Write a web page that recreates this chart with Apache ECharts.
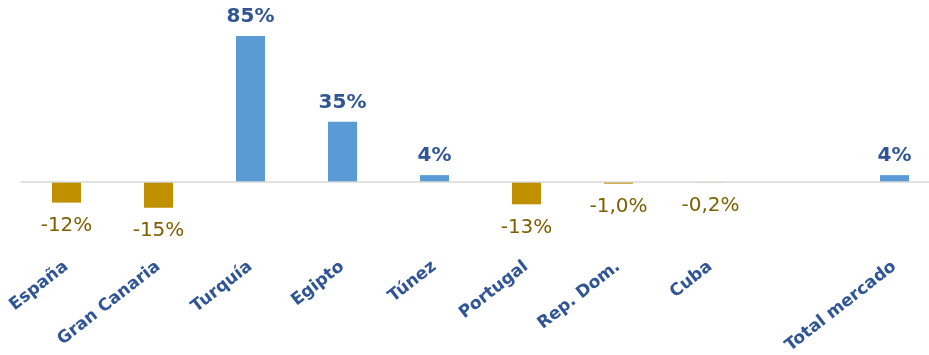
<!DOCTYPE html>
<html>
<head>
<meta charset="utf-8">
<script src="https://cdn.jsdelivr.net/npm/echarts@6/dist/echarts.min.js"></script>
<style>
  html, body { margin: 0; padding: 0; background: #ffffff; }
  #chart { width: 929px; height: 355px; }
</style>
</head>
<body>
<div id="chart"></div>
<script>
// Year-on-year variation by destination (%)
const categories = ['España', 'Gran Canaria', 'Turquía', 'Egipto', 'Túnez', 'Portugal', 'Rep. Dom.', 'Cuba', '', 'Total mercado'];
const variation = [-12, -15, 85, 35, 4, -13, -1.0, -0.2, null, 4];
const labelDecimals = [0, 0, 0, 0, 0, 0, 1, 1, 0, 0];

const BLUE = '#5B9BD5';
const GOLD = '#BF9000';
const BLUE_TEXT = '#2F5597';
const GOLD_TEXT = '#7F6000';
const FONT = '"DejaVu Sans", sans-serif';

function fmt(v, d) {
  return v.toFixed(d).replace('.', ',') + '%';
}

const barData = variation.map((v, i) => {
  if (v === null) return '-';
  const up = v >= 0;
  return {
    value: v,
    itemStyle: { color: up ? BLUE : GOLD },
    label: {
      show: true,
      position: up ? 'top' : 'bottom',
      distance: up ? 9 : 13,
      color: up ? BLUE_TEXT : GOLD_TEXT,
      fontWeight: up ? 'bold' : 'normal',
      formatter: () => fmt(v, labelDecimals[i])
    }
  };
});

const chart = echarts.init(document.getElementById('chart'), null, { renderer: 'canvas' });
chart.setOption({
  animation: false,
  backgroundColor: '#ffffff',
  grid: {
    left: 20.5,
    top: 27.4,
    width: 920,
    height: 223.3,
    containLabel: false,
    outerBoundsMode: 'none'
  },
  xAxis: {
    type: 'category',
    data: categories,
    axisLine: { show: false, onZero: false },
    axisTick: { show: false },
    splitLine: { show: false },
    axisLabel: {
      interval: 0,
      rotate: 38,
      margin: 3,
      padding: [0, 7, 0, 0],
      align: 'right',
      verticalAlign: 'top',
      color: BLUE_TEXT,
      fontFamily: FONT,
      fontWeight: 'bold',
      fontSize: 17
    }
  },
  yAxis: {
    type: 'value',
    min: -40,
    max: 90,
    show: false,
    splitLine: { show: false }
  },
  series: [{
    type: 'bar',
    data: barData,
    barWidth: 29,
    label: {
      fontFamily: FONT,
      fontSize: 20
    },
    markLine: {
      silent: true,
      symbol: ['none', 'none'],
      label: { show: false },
      lineStyle: { color: '#D9D9D9', width: 1.5, type: 'solid' },
      data: [{ yAxis: 0 }]
    }
  }]
});
</script>
</body>
</html>
